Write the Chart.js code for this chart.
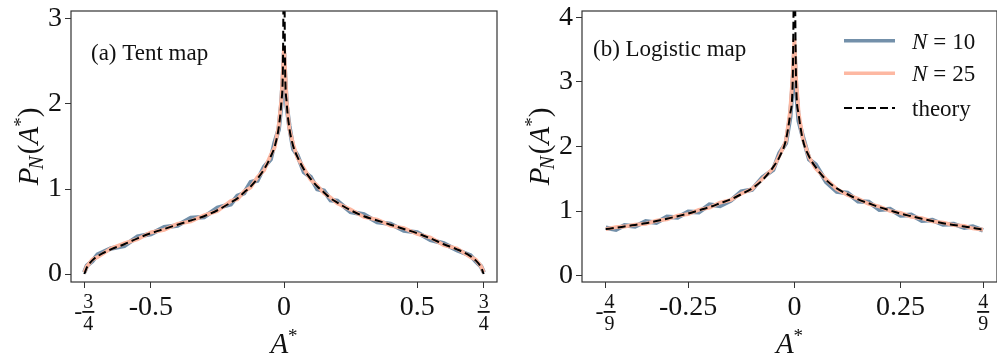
<!DOCTYPE html>
<html>
<head>
<meta charset="utf-8">
<script src="https://cdn.jsdelivr.net/npm/chart.js@4.4.1/dist/chart.umd.min.js"></script>
<style>
  body { margin: 0; background: #fff; width: 997px; height: 356px; overflow: hidden; position: relative; }
  .panel { position: absolute; top: 0; height: 356px; }
</style>
</head>
<body>
<div class="panel" style="left:0;width:500px"><canvas id="tent" width="500" height="356"></canvas></div>
<div class="panel" style="left:500px;width:497px"><canvas id="logi" width="497" height="356"></canvas></div>
<script>
// ---- data ----
var tentX = [-0.75,-0.74,-0.72,-0.7,-0.65,-0.6,-0.55,-0.5,-0.45,-0.4,-0.35,-0.3,-0.25,-0.2,-0.175,-0.15,-0.125,-0.1,-0.075,-0.05,-0.035,-0.02,-0.01,-0.004,0,
             0.004,0.01,0.02,0.035,0.05,0.075,0.1,0.125,0.15,0.175,0.2,0.25,0.3,0.35,0.4,0.45,0.5,0.55,0.6,0.65,0.7,0.72,0.74,0.75];
var tentTheory = [0,0.08,0.16,0.21,0.29,0.35,0.42,0.48,0.53,0.58,0.63,0.68,0.75,0.84,0.89,0.96,1.03,1.12,1.23,1.38,1.5,1.72,2.02,2.45,4.0,
                  2.45,2.02,1.72,1.5,1.38,1.23,1.12,1.03,0.96,0.89,0.84,0.75,0.68,0.63,0.58,0.53,0.48,0.42,0.35,0.29,0.21,0.16,0.08,0];
var tentN10 = [0.02,0.1,0.15,0.23,0.3,0.33,0.44,0.47,0.55,0.57,0.66,0.67,0.78,0.82,0.92,0.95,1.08,1.1,1.26,1.35,1.55,1.7,2.0,2.3,2.6,
               2.32,1.98,1.74,1.47,1.4,1.2,1.14,1.0,0.98,0.87,0.86,0.73,0.7,0.61,0.59,0.51,0.49,0.4,0.36,0.28,0.22,0.15,0.09,0.02];
var tentN25 = [0.02,0.09,0.17,0.2,0.3,0.36,0.41,0.49,0.52,0.59,0.62,0.69,0.74,0.86,0.88,0.97,1.02,1.14,1.22,1.4,1.49,1.74,2.05,2.4,2.68,
               2.42,2.03,1.71,1.52,1.37,1.24,1.11,1.04,0.95,0.9,0.83,0.76,0.67,0.64,0.57,0.54,0.47,0.43,0.34,0.3,0.2,0.17,0.09,0.02];
var tentTicks = [-0.75,-0.5,0,0.5,0.75];
var tentTickLabels = ['-3/4','-0.5','0','0.5','3/4'];
var tentYTicks = [0,1,2,3];

var logiX = [-0.444,-0.42,-0.4,-0.375,-0.35,-0.325,-0.3,-0.275,-0.25,-0.225,-0.2,-0.175,-0.15,-0.125,-0.1,-0.075,-0.05,-0.035,-0.02,-0.01,-0.004,0,
             0.004,0.01,0.02,0.035,0.05,0.075,0.1,0.125,0.15,0.175,0.2,0.225,0.25,0.275,0.3,0.325,0.35,0.375,0.4,0.42,0.444];
var logiTheory = [0.72,0.74,0.76,0.785,0.81,0.845,0.88,0.92,0.96,1.01,1.06,1.12,1.18,1.26,1.35,1.48,1.68,1.84,2.1,2.5,3.0,5.0,
                  3.0,2.5,2.1,1.84,1.68,1.48,1.35,1.26,1.18,1.12,1.06,1.01,0.96,0.92,0.88,0.845,0.81,0.785,0.76,0.74,0.71];
var logiN10 = [0.74,0.71,0.78,0.76,0.84,0.82,0.91,0.9,0.99,0.98,1.1,1.08,1.16,1.3,1.33,1.52,1.64,1.9,2.05,2.45,2.95,3.5,
               2.9,2.4,2.15,1.8,1.72,1.45,1.3,1.28,1.15,1.14,1.02,1.03,0.93,0.94,0.85,0.86,0.79,0.8,0.74,0.76,0.7];
var logiN25 = [0.72,0.75,0.76,0.79,0.8,0.85,0.87,0.93,0.95,1.02,1.05,1.13,1.17,1.27,1.34,1.5,1.66,1.86,2.08,2.55,3.1,3.67,
               3.05,2.52,2.12,1.83,1.66,1.49,1.34,1.25,1.19,1.11,1.07,1.0,0.97,0.91,0.89,0.84,0.82,0.78,0.77,0.73,0.71];
var logiTicks = [-4/9,-0.25,0,0.25,4/9];
var logiTickLabels = ['-4/9','-0.25','0','0.25','4/9'];
var logiYTicks = [0,1,2,3,4];

var seriesNames = ['N = 10', 'N = 25', 'theory'];
var blue = '#7390aa', salmon = '#fdb8a2';
var serif = '"Liberation Serif", "DejaVu Serif", serif';

function pts(xs, ys) {
  return xs.map(function (x, i) { return { x: x, y: ys[i] }; });
}

// draw a run of text pieces (italic / raised / smaller) starting at x
function drawPieces(ctx, pieces, x, y, align) {
  var widths = pieces.map(function (p) {
    ctx.font = (p.it ? 'italic ' : '') + p.size + 'px ' + serif;
    return ctx.measureText(p.t).width + (p.gap || 0);
  });
  var total = widths.reduce(function (a, b) { return a + b; }, 0);
  var cx = align === 'center' ? x - total / 2 : x;
  ctx.textAlign = 'left';
  ctx.textBaseline = 'alphabetic';
  pieces.forEach(function (p, i) {
    ctx.font = (p.it ? 'italic ' : '') + p.size + 'px ' + serif;
    ctx.fillText(p.t, cx + (p.pre || 0), y + (p.dy || 0));
    cx += widths[i];
  });
}

function decor(cfg) {
  return {
    id: 'decor',
    afterDraw: function (chart) {
      var ctx = chart.ctx, a = chart.chartArea, xs = chart.scales.x;
      ctx.save();
      ctx.fillStyle = '#111';
      // frame
      ctx.strokeStyle = '#333';
      ctx.lineWidth = 1.2;
      ctx.strokeRect(a.left, a.top, a.right - a.left, a.bottom - a.top);

      // fraction tick labels
      cfg.tickLabels.forEach(function (lab, i) {
        if (lab.indexOf('/') < 0) return;
        var neg = lab.charAt(0) === '-';
        var parts = lab.replace('-', '').split('/');
        var px = xs.getPixelForValue(cfg.ticks[i]);
        ctx.font = '20px ' + serif;
        var w = Math.max(ctx.measureText(parts[0]).width, ctx.measureText(parts[1]).width) + 2;
        var cx = neg ? px + 4 : px;
        ctx.textAlign = 'center';
        ctx.textBaseline = 'alphabetic';
        ctx.fillText(parts[0], cx, a.bottom + 26);
        ctx.fillText(parts[1], cx, a.bottom + 48);
        ctx.fillRect(cx - w / 2, a.bottom + 29, w, 1.8);
        if (neg) {
          ctx.font = '24px ' + serif;
          ctx.textAlign = 'right';
          ctx.fillText('-', cx - w / 2, a.bottom + 37);
        }
      });

      // x title  A*
      drawPieces(ctx, [{ t: 'A', it: true, size: 29 }, { t: '*', size: 19, dy: -11 }],
        (a.left + a.right) / 2, a.bottom + 71, 'center');

      // y title  P_N(A*)
      ctx.save();
      ctx.translate(a.left - 43, (a.top + a.bottom) / 2);
      ctx.rotate(-Math.PI / 2);
      drawPieces(ctx, [
        { t: 'P', it: true, size: 29 },
        { t: 'N', it: true, size: 20, dy: 5, pre: -2 },
        { t: '(', size: 29 },
        { t: 'A', it: true, size: 29 },
        { t: '*', size: 19, dy: -11 },
        { t: ')', size: 29 }
      ], 0, 10, 'center');
      ctx.restore();

      // panel label
      ctx.font = '23px ' + serif;
      ctx.textAlign = 'left';
      ctx.fillText(cfg.panel, a.left + cfg.panelDx, cfg.panelY);

      // legend
      if (cfg.legend) {
        var rows = [40.7, 73.3, 108];
        var styles = [
          { c: blue, w: 3.5, dash: [] },
          { c: salmon, w: 3.5, dash: [] },
          { c: '#000', w: 2, dash: [8, 4] }
        ];
        rows.forEach(function (ry, i) {
          ctx.strokeStyle = styles[i].c;
          ctx.lineWidth = styles[i].w;
          ctx.setLineDash(styles[i].dash);
          ctx.beginPath();
          ctx.moveTo(a.left + 262, ry);
          ctx.lineTo(a.left + 313, ry);
          ctx.stroke();
          ctx.setLineDash([]);
          var name = seriesNames[i];
          if (name.charAt(0) === 'N') {
            drawPieces(ctx, [
              { t: 'N', it: true, size: 23, gap: 6 },
              { t: '=', size: 23, gap: 6 },
              { t: name.split('= ')[1], size: 23 }
            ], a.left + 330, ry + 8, 'left');
          } else {
            ctx.font = '23px ' + serif;
            ctx.textAlign = 'left';
            ctx.fillText(name, a.left + 330, ry + 8);
          }
        });
      }
      ctx.restore();
    }
  };
}

function build(id, cfg) {
  new Chart(document.getElementById(id), {
    type: 'scatter',
    data: {
      datasets: [
        { label: seriesNames[0], data: pts(cfg.x, cfg.n10), showLine: true, borderColor: blue,
          borderWidth: 4.5, pointRadius: 0, order: 3 },
        { label: seriesNames[1], data: pts(cfg.x, cfg.n25), showLine: true, borderColor: salmon,
          borderWidth: 3.8, pointRadius: 0, order: 2 },
        { label: seriesNames[2], data: pts(cfg.x, cfg.theory), showLine: true, borderColor: '#000',
          borderWidth: 2, borderDash: [8, 4], pointRadius: 0, cubicInterpolationMode: 'monotone', order: 1 }
      ]
    },
    options: {
      responsive: false,
      animation: false,
      events: [],
      layout: { padding: { top: 11, right: cfg.padRight, left: 0, bottom: 0 } },
      plugins: { legend: { display: false }, tooltip: { enabled: false } },
      scales: {
        x: {
          type: 'linear', min: cfg.xMin, max: cfg.xMax,
          afterBuildTicks: function (s) { s.ticks = cfg.ticks.map(function (v) { return { value: v }; }); },
          afterFit: function (s) { s.height = 74; s.paddingLeft = 0; s.paddingRight = 0; },
          ticks: {
            autoSkip: false, maxRotation: 0, padding: 3, color: '#111',
            font: { family: serif, size: 28 },
            callback: function (v, i) {
              var lab = cfg.tickLabels[i];
              return lab.indexOf('/') < 0 ? lab : '';
            }
          },
          grid: { drawOnChartArea: false, tickLength: 6, color: '#333' },
          border: { display: false }
        },
        y: {
          type: 'linear', min: cfg.yMin, max: cfg.yMax,
          afterBuildTicks: function (s) { s.ticks = cfg.yTicks.map(function (v) { return { value: v }; }); },
          afterFit: function (s) { s.width = cfg.yWidth; s.paddingTop = 0; s.paddingBottom = 0; },
          ticks: { padding: 3, color: '#111', font: { family: serif, size: 28 } },
          grid: { drawOnChartArea: false, tickLength: 6, color: '#333' },
          border: { display: false }
        }
      }
    },
    plugins: [decor(cfg)]
  });
}

build('tent', {
  x: tentX, theory: tentTheory, n10: tentN10, n25: tentN25,
  ticks: tentTicks, tickLabels: tentTickLabels, yTicks: tentYTicks,
  xMin: -0.8, xMax: 0.8, yMin: -0.094, yMax: 3.094,
  yWidth: 71, padRight: 3,
  panel: '(a) Tent map', panelDx: 20, panelY: 60, legend: false
});

build('logi', {
  x: logiX, theory: logiTheory, n10: logiN10, n25: logiN25,
  ticks: logiTicks, tickLabels: logiTickLabels, yTicks: logiYTicks,
  xMin: -0.5, xMax: 0.477, yMin: -0.1, yMax: 4.1,
  yWidth: 82, padRight: 0,
  panel: '(b) Logistic map', panelDx: 11, panelY: 56, legend: true
});
</script>
</body>
</html>
